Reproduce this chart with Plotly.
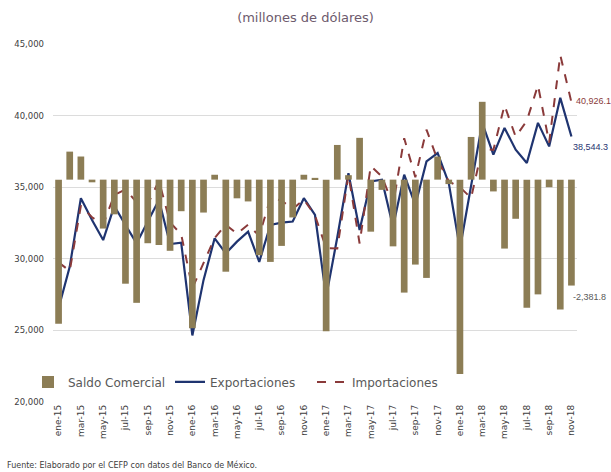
import plotly.graph_objects as go

# --------------------------------------------------------
# Data (millones de dólares), ene-15 .. nov-18
# --------------------------------------------------------

meses = [
    "ene-15", "feb-15", "mar-15", "abr-15", "may-15", "jun-15",
    "jul-15", "ago-15", "sep-15", "oct-15", "nov-15", "dic-15",
    "ene-16", "feb-16", "mar-16", "abr-16", "may-16", "jun-16",
    "jul-16", "ago-16", "sep-16", "oct-16", "nov-16", "dic-16",
    "ene-17", "feb-17", "mar-17", "abr-17", "may-17", "jun-17",
    "jul-17", "ago-17", "sep-17", "oct-17", "nov-17", "dic-17",
    "ene-18", "feb-18", "mar-18", "abr-18", "may-18", "jun-18",
    "jul-18", "ago-18", "sep-18", "oct-18", "nov-18"
]

exportaciones = [
    26550, 29440, 34230, 32710, 31310, 33690,
    32360, 31080, 32600, 34110, 31030, 31120,
    24650, 28510, 31430, 30380, 31200, 31890,
    29790, 32360, 32520, 32600, 34230, 33060,
    27340, 31500, 35980, 32010, 35400, 35520,
    32240, 35870, 33760, 36800, 37380, 35280,
    30700, 35050, 39490, 37270, 39140, 37620,
    36690, 39490, 37850, 41240, 38544.3
]

importaciones = [
    29750, 29150, 33700, 32900, 32400, 34460,
    34850, 33950, 33800, 35450, 32550, 31700,
    27950, 29700, 31450, 32380, 31750, 32380,
    31600, 34230, 34080, 33480, 34150, 33020,
    30750, 30720, 35880, 31070, 36480, 35750,
    33760, 38420, 35700, 39020, 36900, 35400,
    35000, 34250, 37700, 37600, 40720, 38520,
    39640, 42120, 38120, 44220, 40926.1
]

saldo = [
    -3240, 630, 520, -60, -1100, -780,
    -2340, -2770, -1430, -1470, -1600, -710,
    -3340, -740, 110, -2070, -420, -490,
    -1700, -1850, -1490, -850, 110, 40,
    -3410, 780, 100, 940, -1170, -230,
    -1500, -2540, -1910, -2210, 520, -100,
    -4370, 960, 1750, -265, -1550, -880,
    -2880, -2580, -170, -2920, -2381.8
]

FONT = "DejaVu Sans"
LABEL_FONT = "Liberation Sans, Arial"
BAR_COLOR = "#8c7d55"
EXP_COLOR = "#1f3470"
IMP_COLOR = "#8a3a3a"

# --------------------------------------------------------
# Figure
# --------------------------------------------------------

fig = go.Figure()

fig.add_trace(
    go.Bar(
        x=meses,
        y=saldo,
        name="Saldo Comercial",
        marker=dict(color=BAR_COLOR, line=dict(width=0)),
        yaxis="y2"
    )
)

fig.add_trace(
    go.Scatter(
        x=meses,
        y=exportaciones,
        mode="lines",
        name="Exportaciones",
        line=dict(color=EXP_COLOR, width=2.2)
    )
)

fig.add_trace(
    go.Scatter(
        x=meses,
        y=importaciones,
        mode="lines",
        name="Importaciones",
        line=dict(color=IMP_COLOR, width=2, dash="dash")
    )
)

# labels on the last month
last = meses[-1]

fig.add_annotation(
    x=last, y=importaciones[-1], xref="x", yref="y",
    text=f"{importaciones[-1]:,.1f}", showarrow=False,
    xanchor="left", xshift=3, yshift=1,
    font=dict(family=LABEL_FONT, size=9, color=IMP_COLOR)
)

fig.add_annotation(
    x=last, y=exportaciones[-1], xref="x", yref="y",
    text=f"{exportaciones[-1]:,.1f}", showarrow=False,
    xanchor="left", xshift=0, yshift=-11,
    font=dict(family=LABEL_FONT, size=9, color=EXP_COLOR)
)

fig.add_annotation(
    x=last, y=saldo[-1], xref="x", yref="y2",
    text=f"{saldo[-1]:,.1f}", showarrow=False,
    xanchor="left", xshift=0, yshift=-11,
    font=dict(family=LABEL_FONT, size=9, color="#595959")
)

fig.add_annotation(
    x=(5 - 53) / 524, y=(0 - 70) / 358, xref="paper", yref="paper",
    text="Fuente: Elaborado por el CEFP con datos del Banco de México.",
    showarrow=False, xanchor="left", yanchor="bottom",
    font=dict(family=FONT, size=8, color="#404040")
)

fig.update_layout(
    width=611,
    height=472,
    margin=dict(l=53, r=34, t=44, b=70, autoexpand=False),
    paper_bgcolor="white",
    plot_bgcolor="white",
    font=dict(family=FONT, color="#404040"),
    title=dict(
        text="(millones de dólares)",
        x=0.5, xanchor="center",
        y=0.962, yanchor="middle",
        font=dict(family=FONT, size=13, color="#6d5a6d")
    ),
    bargap=0.4,
    showlegend=True,
    legend=dict(
        orientation="h",
        xref="container",
        x=28 / 611, xanchor="left",
        y=0.056, yanchor="middle",
        bgcolor="rgba(0,0,0,0)",
        font=dict(family=FONT, size=12, color="#595959"),
        itemwidth=30,
        entrywidth=97,
        entrywidthmode="pixels"
    ),
    xaxis=dict(
        type="category",
        range=[-0.5, len(meses) - 0.5],
        tickmode="array",
        tickvals=meses[::2],
        ticktext=meses[::2],
        tickangle=-90,
        tickfont=dict(family=FONT, size=9, color="#404040"),
        showgrid=False,
        showline=False,
        ticks="",
        automargin=False
    ),
    yaxis=dict(
        range=[20000, 45000],
        tickvals=[20000, 25000, 30000, 35000, 40000, 45000],
        tickformat=",d",
        tickfont=dict(family=FONT, size=8.5, color="#404040"),
        showgrid=True,
        gridcolor="#dcdcdc",
        gridwidth=1,
        zeroline=False,
        automargin=False,
        ticklabelstandoff=8
    ),
    yaxis2=dict(
        overlaying="y",
        side="right",
        range=[-5000, 3050],
        visible=False,
        showgrid=False
    )
)

fig.write_html(
    "out.html",
    config={"displayModeBar": False},
    post_script="document.body.style.margin='0';"
)
